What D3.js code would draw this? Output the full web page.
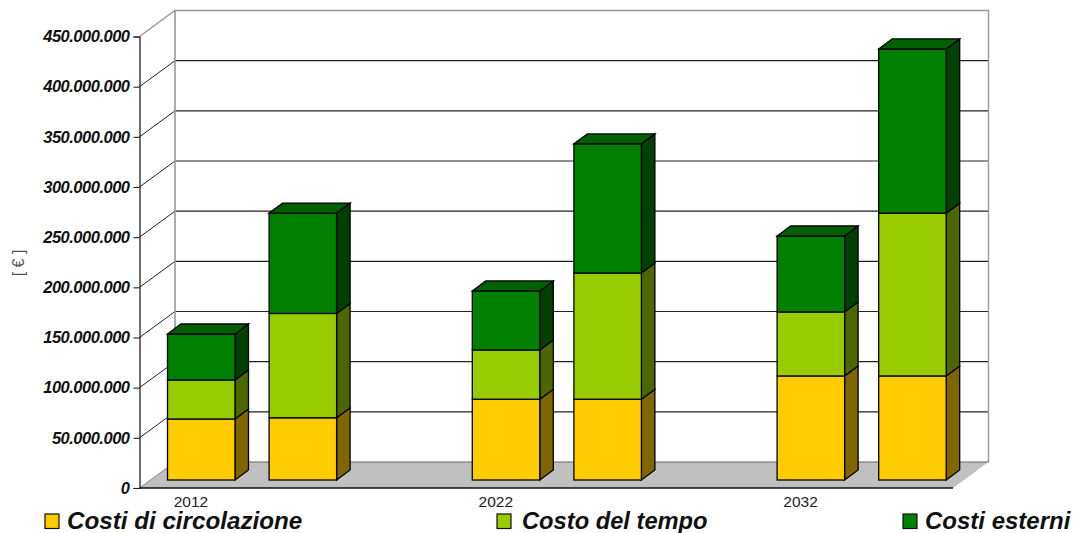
<!DOCTYPE html>
<html>
<head>
<meta charset="utf-8">
<script src="https://cdn.jsdelivr.net/npm/d3@7/dist/d3.min.js"></script>
<style>
html,body{margin:0;padding:0;background:#fff}
svg{display:block}
text{font-family:"Liberation Sans",Arial,sans-serif}
</style>
</head>
<body>
<svg id="chart" width="1075" height="533"></svg>
<script>
// Costs per scenario, in euro, stacked bottom to top
const years = ["2012", "2022", "2032"];
const barSlots = [0, 1, 3, 4, 6, 7];
const circolazione = [60800000, 62000000, 80500000, 80500000, 103700000, 103700000];
const tempo = [38900000, 104000000, 49100000, 125800000, 63800000, 162300000];
const esterni = [45800000, 100000000, 58800000, 128700000, 75700000, 163600000];
const seriesNames = ["Costi di circolazione", "Costo del tempo", "Costi esterni"];
const yTicks = [0, 50000000, 100000000, 150000000, 200000000, 250000000, 300000000, 350000000, 400000000, 450000000];

const frontColors = ["#ffcc00", "#99cc00", "#008000"];
const sideColors = ["#7f6600", "#4c6600", "#004000"];
const topColors = ["#7f6600", "#4c6600", "#006000"];

const svg = d3.select("#chart");
const y = d3.scaleLinear().domain([0, 450000000]).range([488, 36.5]);
const x = d3.scaleLinear().domain([0, 7]).range([167.5, 878.7]);

// Oblique projection offsets
const wall = {dx: 35.5, dy: -26};
const barDepth = {dx: 13.5, dy: -10};
const barLift = 8;
const barWidth = 67.5;
const left = 139.5, right = 953;

const poly = pts => pts.map(p => p.join(",")).join(" ");

// Floor
svg.append("polygon")
  .attr("points", poly([[left, y(0)], [left + wall.dx, y(0) + wall.dy], [right + wall.dx, y(0) + wall.dy], [right, y(0)]]))
  .attr("fill", "#c0c0c0");

// Gridlines on the back wall and the left wall
const grid = svg.append("g");
grid.selectAll("line.back").data(yTicks.slice(1, -1)).join("line")
  .attr("x1", left + wall.dx).attr("x2", right + wall.dx)
  .attr("y1", d => y(d) + wall.dy).attr("y2", d => y(d) + wall.dy)
  .attr("stroke", "#222").attr("stroke-width", 1.1);
grid.selectAll("line.side").data(yTicks.slice(1, -1)).join("line")
  .attr("x1", left).attr("x2", left + wall.dx)
  .attr("y1", d => y(d)).attr("y2", d => y(d) + wall.dy)
  .attr("stroke", "#222").attr("stroke-width", 1);

// Wall outline
svg.append("path")
  .attr("d", `M${left},${y(450000000)}L${left + wall.dx},${y(450000000) + wall.dy}H${right + wall.dx}V${y(0) + wall.dy}`)
  .attr("fill", "none").attr("stroke", "#999").attr("stroke-width", 1.4);
svg.append("line")
  .attr("x1", left + wall.dx).attr("x2", left + wall.dx)
  .attr("y1", y(450000000) + wall.dy).attr("y2", y(0) + wall.dy)
  .attr("stroke", "#999").attr("stroke-width", 1.6);
svg.append("line")
  .attr("x1", left + wall.dx).attr("x2", right + wall.dx)
  .attr("y1", y(0) + wall.dy).attr("y2", y(0) + wall.dy)
  .attr("stroke", "#666").attr("stroke-width", 1.2);
svg.append("line")
  .attr("x1", left).attr("x2", left + wall.dx)
  .attr("y1", y(0)).attr("y2", y(0) + wall.dy)
  .attr("stroke", "#888").attr("stroke-width", 1);

// Stacked bars with front, side and top faces
const stacked = barSlots.map((slot, i) => {
  const vals = [circolazione[i], tempo[i], esterni[i]];
  let base = 0;
  return {slot, segs: vals.map((v, s) => { const seg = {s, y0: base, y1: base + v}; base += v; return seg; })};
});
const bars = svg.append("g").attr("stroke", "#000").attr("stroke-width", 1.3).attr("stroke-linejoin", "miter");
stacked.forEach(b => {
  const g = bars.append("g");
  const x0 = x(b.slot), x1 = x0 + barWidth;
  b.segs.forEach(seg => {
    const yb = y(seg.y0) - barLift, yt = y(seg.y1) - barLift;
    g.append("polygon")
      .attr("points", poly([[x1, yb], [x1 + barDepth.dx, yb + barDepth.dy], [x1 + barDepth.dx, yt + barDepth.dy], [x1, yt]]))
      .attr("fill", sideColors[seg.s]);
    g.append("rect")
      .attr("x", x0).attr("y", yt).attr("width", barWidth).attr("height", yb - yt)
      .attr("fill", frontColors[seg.s]);
  });
  const last = b.segs[b.segs.length - 1];
  const yt = y(last.y1) - barLift;
  g.append("polygon")
    .attr("points", poly([[x0, yt], [x0 + barDepth.dx, yt + barDepth.dy], [x1 + barDepth.dx, yt + barDepth.dy], [x1, yt]]))
    .attr("fill", topColors[last.s]);
});

// Front axes
svg.append("line").attr("x1", left).attr("x2", right).attr("y1", y(0)).attr("y2", y(0))
  .attr("stroke", "#111").attr("stroke-width", 1.4);
const yAxis = d3.axisLeft(y)
  .tickValues(yTicks)
  .tickSize(6)
  .tickPadding(4)
  .tickFormat(d => d3.format(",")(d).replace(/,/g, "."));
const axisG = svg.append("g").attr("transform", `translate(${left},0)`).call(yAxis);
axisG.select(".domain").attr("stroke", "#111").attr("stroke-width", 1.2);
axisG.selectAll(".tick line").attr("stroke", "#222").attr("stroke-width", 1.1);
axisG.selectAll(".tick text")
  .attr("font-family", '"Liberation Sans",Arial,sans-serif')
  .attr("font-size", 16.5).attr("font-weight", "bold").attr("font-style", "italic")
  .attr("letter-spacing", -0.5).attr("fill", "#111");

// Year labels sit under the first bar of each pair
svg.selectAll("text.year").data(years).join("text").attr("class", "year")
  .attr("x", (d, i) => x(barSlots[i * 2]) + 23.5).attr("y", 507)
  .attr("text-anchor", "middle").attr("font-size", 15.5).attr("fill", "#222").text(d => d);

// Axis title
svg.append("text")
  .attr("transform", "translate(23.5,263) rotate(-90)")
  .attr("text-anchor", "middle").attr("font-size", 16).attr("fill", "#555").text("[ € ]");

// Legend
const legendX = [45, 497, 903];
const legendFont = [24.2, 23.7, 24];
const legend = svg.selectAll("g.legend").data(seriesNames).join("g").attr("class", "legend")
  .attr("transform", (d, i) => `translate(${legendX[i]},0)`);
legend.append("rect").attr("x", 0).attr("y", 514).attr("width", 14).attr("height", 14.5)
  .attr("fill", (d, i) => frontColors[i]).attr("stroke", "#111").attr("stroke-width", 1.2);
legend.append("text").attr("x", (d, i) => i === 1 ? 25 : 22).attr("y", 529)
  .attr("font-size", (d, i) => legendFont[i]).attr("font-weight", "bold").attr("font-style", "italic").attr("fill", "#111").text(d => d);
</script>
</body>
</html>
